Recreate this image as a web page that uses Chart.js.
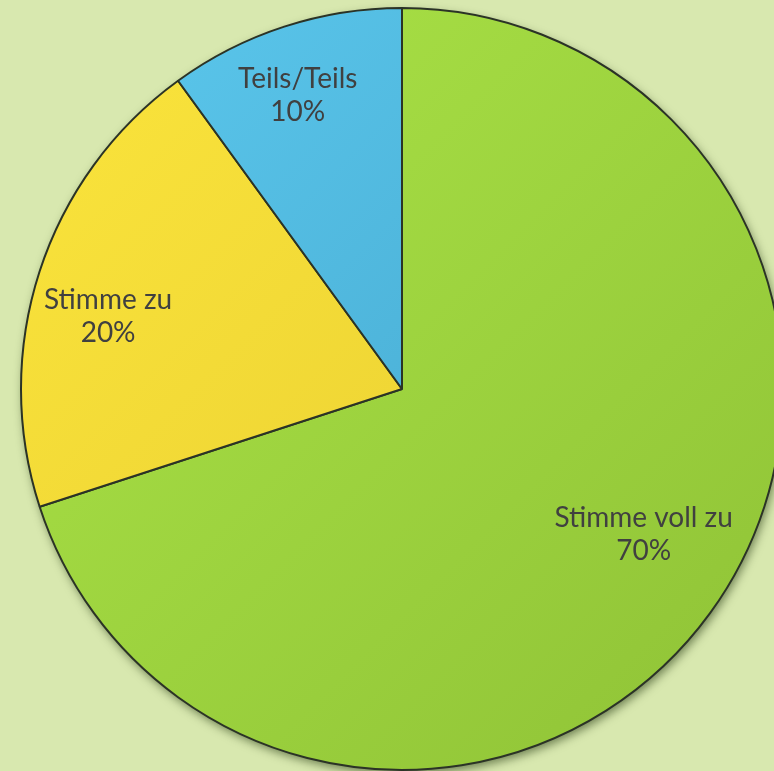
<!DOCTYPE html>
<html>
<head>
<meta charset="utf-8">
<script src="https://cdn.jsdelivr.net/npm/chart.js@4/dist/chart.umd.min.js"></script>
<style>
  html, body { margin: 0; padding: 0; background: #d8e8af; overflow: hidden; }
  #wrap { width: 804px; height: 778px; }
</style>
</head>
<body>
<div id="wrap"><canvas id="pieChart"></canvas></div>
<script>
// chart data
const categories = ['Stimme voll zu', 'Stimme zu', 'Teils/Teils'];
const shares = [70, 20, 10];

// fill colours per slice: [light, dark] for the gradient
const sliceColors = [
  ['#abe447', '#8fc236'],
  ['#fbe53c', '#e5c92e'],
  ['#5cc9ee', '#3f9fc6']
];
// label placement: fraction of radius and small angle nudge (degrees)
const labelRadius = [0.74, 0.795, 0.82];
const labelNudge = [-5, -4, -1.5];

function sliceFill(context) {
  const chart = context.chart;
  const area = chart.chartArea;
  if (!area) return sliceColors[context.dataIndex][0];
  const c = sliceColors[context.dataIndex];
  const g = chart.ctx.createLinearGradient(area.left, area.top, area.right, area.bottom);
  g.addColorStop(0, c[0]);
  g.addColorStop(1, c[1]);
  return g;
}

// soft shadow under the whole pie
const pieShadow = {
  id: 'pieShadow',
  beforeDatasetsDraw(chart) {
    const arc = chart.getDatasetMeta(0).data[0];
    if (!arc) return;
    const ctx = chart.ctx;
    ctx.save();
    ctx.shadowColor = 'rgba(40, 60, 20, 0.6)';
    ctx.shadowBlur = 10;
    ctx.shadowOffsetX = 2;
    ctx.shadowOffsetY = 4;
    ctx.fillStyle = '#9ccf3a';
    ctx.beginPath();
    ctx.arc(arc.x, arc.y, arc.outerRadius, 0, Math.PI * 2);
    ctx.fill();
    ctx.restore();
  }
};

// two-line labels inside the slices
const sliceLabels = {
  id: 'sliceLabels',
  afterDatasetsDraw(chart) {
    const ctx = chart.ctx;
    const meta = chart.getDatasetMeta(0);
    ctx.save();
    ctx.fillStyle = '#404040';
    ctx.font = '28px Lato, "DejaVu Sans", sans-serif';
    ctx.textAlign = 'center';
    ctx.textBaseline = 'middle';
    meta.data.forEach((arc, i) => {
      const mid = (arc.startAngle + arc.endAngle) / 2 + labelNudge[i] * Math.PI / 180;
      const r = arc.outerRadius * labelRadius[i];
      const x = arc.x + Math.cos(mid) * r;
      const y = arc.y + Math.sin(mid) * r;
      ctx.fillText(categories[i], x, y - 16);
      ctx.fillText(shares[i] + '%', x, y + 17);
    });
    ctx.restore();
  }
};

new Chart(document.getElementById('pieChart'), {
  type: 'pie',
  data: {
    labels: categories,
    datasets: [{
      data: shares,
      backgroundColor: sliceFill,
      borderColor: '#2b3326',
      borderWidth: 2
    }]
  },
  options: {
    responsive: true,
    maintainAspectRatio: false,
    animation: false,
    layout: { padding: { left: 20, right: 20, top: 7, bottom: 7 } },
    plugins: {
      legend: { display: false },
      tooltip: { enabled: false }
    }
  },
  plugins: [pieShadow, sliceLabels]
});
</script>
</body>
</html>
